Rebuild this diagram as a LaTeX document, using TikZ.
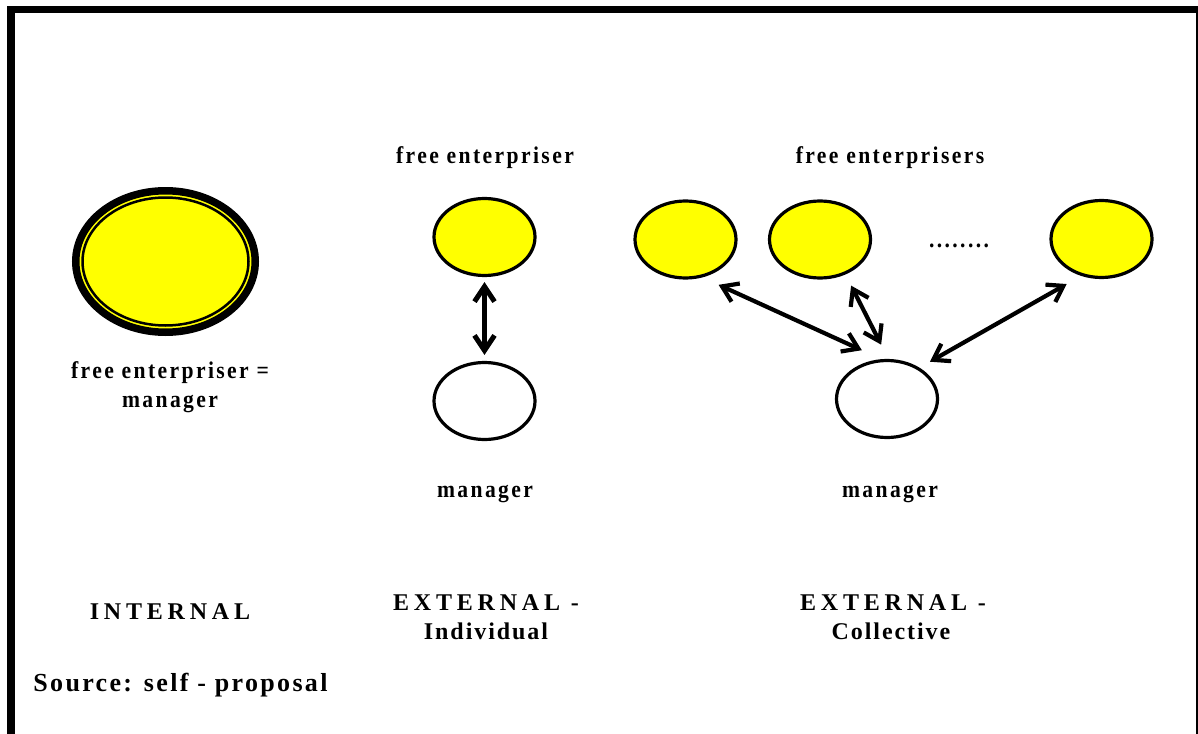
\documentclass[tikz,border=0pt]{standalone}
\usepackage{fontspec}
\setmainfont{Liberation Serif}
\newfontfamily\lblfont[LetterSpace=10,FakeStretch=0.9]{Liberation Serif}
\newfontfamily\capfont[LetterSpace=20]{Liberation Serif}
\newfontfamily\subfont[LetterSpace=8]{Liberation Serif}
\newfontfamily\srcfont[LetterSpace=9]{Liberation Serif}
\usetikzlibrary{shapes.geometric,arrows.meta}
\definecolor{entyellow}{RGB}{255,255,0}
\tikzset{
  lbl/.style={font=\lblfont\bfseries\fontsize{12}{14}\selectfont, inner sep=0pt, anchor=base},
  headline/.style={font=\capfont\bfseries\fontsize{12}{14}\selectfont, inner sep=0pt, anchor=base},
  subline/.style={font=\subfont\bfseries\fontsize{12}{14}\selectfont, inner sep=0pt, anchor=base},
  blob/.style={ellipse, draw, line width=1.6pt, minimum width=50.5pt, minimum height=38.5pt, inner sep=0pt},
  owner/.style={blob, fill=entyellow},
  boss/.style={blob, fill=white},
  link/.style={{Straight Barb[length=7.5pt,width=10pt]}-{Straight Barb[length=7.5pt,width=10pt]}, line width=2.1pt}
}
\begin{document}
\begin{tikzpicture}[x=0.5pt, y=-0.5pt]
  \useasboundingbox (0,0) rectangle (1198,733);
  \clip (0,0) rectangle (1198,733);
  \draw[line width=3.75pt] (11,9.5) rectangle (1200,760);
  % internal
  \node[ellipse, draw, fill=entyellow, line width=3.75pt, minimum width=89.75pt, minimum height=70.75pt, inner sep=0pt] (fe0) at (165.5,261.5) {};
  \draw[line width=1.25pt] (fe0.center) ellipse [x radius=83, y radius=64];
  \node[lbl] (eq1) at (170,378) {free enterpriser =};
  \node[lbl] (eq2) at (170,407) {manager};
  \node[headline] (int) at (170,619) {INTERNAL};
  % external - individual
  \node[lbl] (fet) at (485,163) {free enterpriser};
  \node[owner] (fe) at (484.5,237) {};
  \node[boss] (mg) at (484.5,401) {};
  \node[lbl] (mgt) at (485,497) {manager};
  \draw[link, line width=2.5pt, shorten <=2.5pt, shorten >=3pt] (fe.south) -- (mg.north);
  \node[headline] (ext1) at (486,610) {EXTERNAL -};
  \node[subline] (ind) at (486,639) {Individual};
  % external - collective
  \node[lbl] (fest) at (890,163) {free enterprisers};
  \node[owner] (fe1) at (685.5,239.5) {};
  \node[owner] (fe2) at (820,239.5) {};
  \node[lbl] (dots) at (959,247) {........};
  \node[owner] (fe3) at (1101.5,239) {};
  \node[boss] (mg2) at (887,399) {};
  \node[lbl] (mg2t) at (890,497) {manager};
  \draw[link, shorten <=8.9pt, shorten >=10.75pt] (fe1.-66.5) -- (mg2.98.7);
  \draw[link, shorten <=6.25pt, shorten >=8pt] (fe2.-54.6) -- (mg2.88.3);
  \draw[link, shorten <=8.25pt, shorten >=6pt] (fe3.-119.4) -- (mg2.44.4);
  \node[headline] (ext2) at (893,610) {EXTERNAL -};
  \node[subline] (col) at (891,639) {Collective};
  \node[font=\srcfont\bfseries\fontsize{13}{15}\selectfont, inner sep=0pt, anchor=base west] (src) at (33,691) {Source: self - proposal};
\end{tikzpicture}
\end{document}
